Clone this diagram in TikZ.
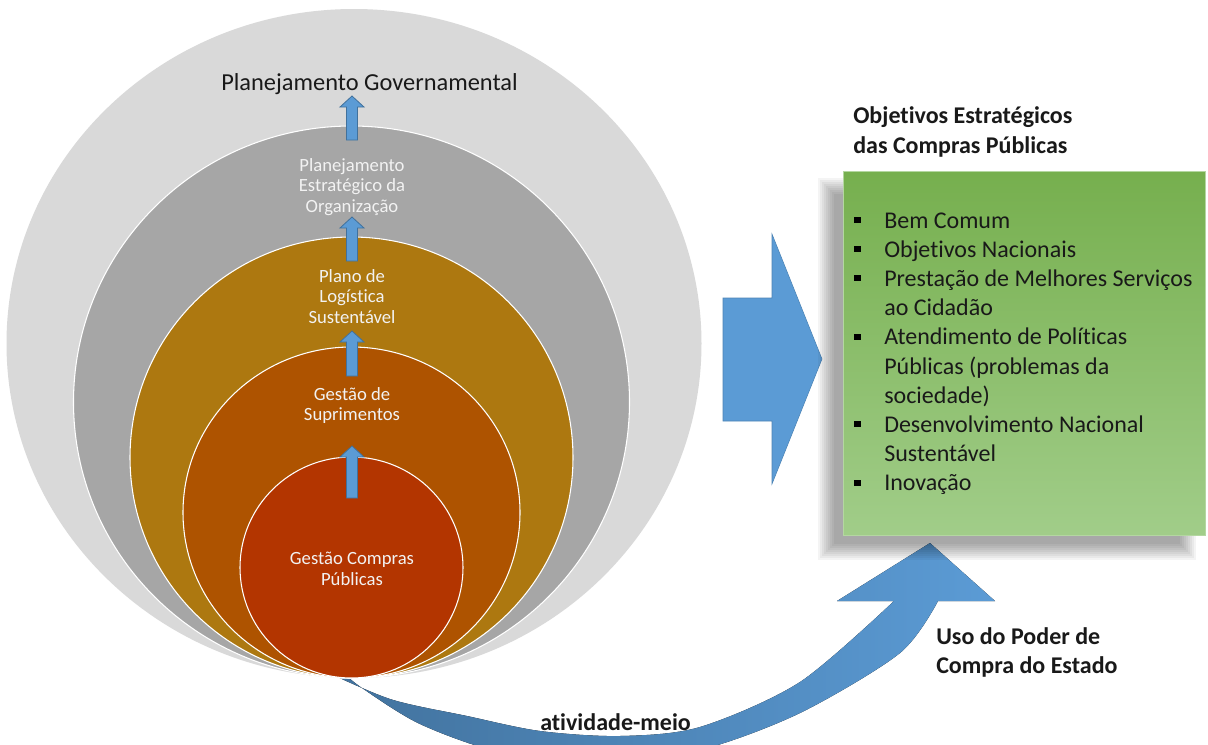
\documentclass[tikz,border=0pt]{standalone}
\usepackage{fontspec}
\setmainfont{Carlito}[Ligatures=CommonOff]
\definecolor{lgray}{HTML}{D9D9D9}
\definecolor{mgray}{HTML}{A6A6A6}
\definecolor{gold}{HTML}{AD7810}
\definecolor{rust}{HTML}{AE5300}
\definecolor{brick}{HTML}{B33500}
\definecolor{blu}{HTML}{5B9BD5}
\definecolor{bluedark}{HTML}{41719C}
\definecolor{gtop}{HTML}{76AF4E}
\definecolor{gbot}{HTML}{A1CD89}
\definecolor{labtext}{HTML}{F2F2F2}
\begin{document}
\begin{tikzpicture}[x=0.75pt,y=-0.75pt,
  ring/.style={draw=white, line width=0.8pt},
  uparrow/.style={fill=blu, draw=bluedark, line width=0.6pt},
  inlabel/.style={font=\fontsize{14}{16}\selectfont, text=labtext, anchor=base, inner sep=0pt},
  biglabel/.style={font=\fontsize{18}{22}\selectfont, text=black!90, anchor=base west, inner sep=0pt},
  boldlabel/.style={font=\fontsize{18}{22}\selectfont\bfseries, text=black!90, anchor=base west, inner sep=0pt},
  bullet/.style={fill=black}
]
\useasboundingbox (0,0) rectangle (1208,744);
\fill[white] (0,0) rectangle (1208,744);

% curved arrow (behind circles)
\begin{scope}
\clip (0,0) rectangle (1208,744);
\fill[left color=bluedark, right color=blu]
  plot[smooth] coordinates {(318,668) (390,699) (467,716) (540,731) (620,736) (700,727) (800,682) (894,601)}
  -- (837,601) -- (930,543) -- (995,601) -- (938,601)
  -- plot[smooth] coordinates {(938,601) (900,653) (800,713) (700,750) (600,762) (500,752) (420,724) (362,688) (340,670)}
  -- cycle;
\end{scope}

% nested circles
\fill[lgray] (354,343.5) ellipse [x radius=347.5, y radius=334.5];
\filldraw[ring, fill=mgray] (351.5,402) ellipse [x radius=278, y radius=276];
\filldraw[ring, fill=gold] (351.5,457.5) ellipse [x radius=221.5, y radius=220.5];
\filldraw[ring, fill=rust] (351.5,512.5) ellipse [x radius=168.5, y radius=165.5];
\filldraw[ring, fill=brick] (351.5,567.5) ellipse [x radius=111.5, y radius=110.5];

% small up arrows
\foreach \t/\b in {96/140, 217/261, 331/376, 446/498} {
  \filldraw[uparrow] (352,\t) -- (364,\t+11) -- (357.5,\t+11) -- (357.5,\b)
    -- (346.5,\b) -- (346.5,\t+11) -- (340,\t+11) -- cycle;
}

% labels in circles
\node[biglabel, font=\fontsize{18.3}{22}\selectfont] (pg) at (221,90) {Planejamento Governamental};
\node[inlabel] (pe1) at (352,171) {Planejamento};
\node[inlabel] (pe2) at (352,191.5) {Estratégico da};
\node[inlabel] (pe3) at (352,212) {Organização};
\node[inlabel] (pl1) at (352,282) {Plano de};
\node[inlabel] (pl2) at (352,302.5) {Logística};
\node[inlabel] (pl3) at (352,323) {Sustentável};
\node[inlabel] (gs1) at (352,400) {Gestão de};
\node[inlabel] (gs2) at (352,420.5) {Suprimentos};
\node[inlabel] (gc1) at (352,564.5) {Gestão Compras};
\node[inlabel] (gc2) at (352,585) {Públicas};

% big right arrow
\filldraw[fill=blu, draw=blu!85!black, line width=0.4pt]
  (723,298) -- (772,298) -- (772,234) -- (822,359) -- (772,484) -- (772,421) -- (723,421) -- cycle;

% box shadow
\foreach \e in {0,...,8} {
  \fill[black, opacity=0.045] (818+2*\e,178+2*\e) rectangle (1196-2*\e,560-2*\e);
}
% box
\shade[top color=gtop, bottom color=gbot] (843,171) rectangle (1205,535);
\draw[draw=gbot!80!white, line width=0.6pt] (843,171) rectangle (1205,535);

% headings
\node[boldlabel] (h1) at (853,123) {Objetivos Estratégicos};
\node[boldlabel] (h2) at (853,153) {das Compras Públicas};

% list
\foreach \y/\txt/\b [count=\i] in {
  228/Bem Comum/1,
  257.2/Objetivos Nacionais/1,
  286.4/Prestação de Melhores Serviços/1,
  315.6/ao Cidadão/0,
  344.8/Atendimento de Políticas/1,
  374/Públicas (problemas da/0,
  403.2/sociedade)/0,
  432.4/Desenvolvimento Nacional/1,
  461.6/Sustentável/0,
  490.8/Inovação/1} {
  \node[biglabel] (li\i) at (884,\y) {\txt};
  \ifnum\b=1 \fill[bullet] (854,\y-11) rectangle (861,\y-5); \fi
}

% other labels
\node[boldlabel] (u1) at (936,644) {Uso do Poder de};
\node[boldlabel] (u2) at (936,673) {Compra do Estado};
\node[boldlabel] (am) at (540,730) {atividade-meio};
\end{tikzpicture}
\end{document}
